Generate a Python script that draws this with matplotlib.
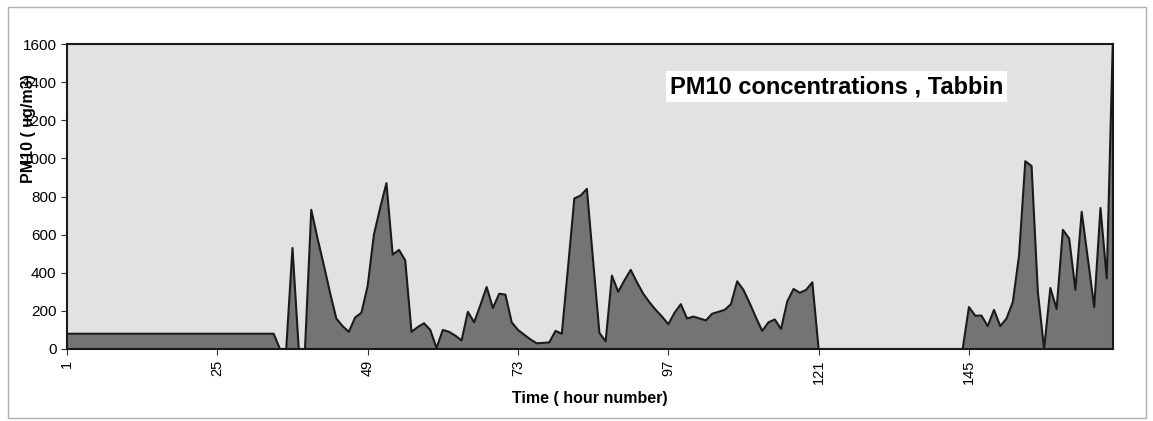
#Grafica de area: concentraciones horarias de PM10 en Tabbin (una semana)

import matplotlib.pyplot as plt
from matplotlib.patches import Rectangle

plt.rcParams["font.family"] = ["Liberation Sans", "DejaVu Sans"]

#DATOS
horas = list(range(1, 169))                             #hora 1 a 168
pm10 = ([80] * 34 +                                     #horas 1-34
        [0, 0, 530, 0, 0, 730, 580, 440, 295, 160,      #35-44
         120, 90, 165, 190, 330, 600, 740, 870, 495, 520,   #45-54
         465, 90, 115, 135, 100, 5, 100, 90, 70, 45,    #55-64
         195, 140, 230, 325, 215, 290, 285, 140, 100, 75,   #65-74
         50, 30, 32, 35, 95, 80, 430, 790, 805, 840,    #75-84
         460, 85, 40, 385, 300, 360, 415, 350, 290, 245,    #85-94
         205, 170, 130, 190, 235, 160, 170, 160, 150, 185,  #95-104
         195, 205, 235, 355, 310, 240, 165, 95, 140, 155,   #105-114
         105, 250, 315, 295, 310, 350, 0] +             #115-121
        [0] * 23 +                                      #122-144
        [220, 175, 175, 120, 205, 120, 160, 245, 490, 985,  #145-154
         960, 300, 0, 320, 210, 625, 580, 310, 720, 470,    #155-164
         220, 740, 370, 1650])                          #165-168
ticks_x = [1, 25, 49, 73, 97, 121, 145]
ticks_y = list(range(0, 1601, 200))

W, H = 1153, 421
fig = plt.figure(figsize=(W / 100, H / 100), dpi=100)
fig.patch.set_facecolor("white")

#marco exterior del grafico
fig.add_artist(Rectangle((8 / W, 1 - 418 / H), (1146 - 8) / W, (418 - 7) / H,
                         transform=fig.transFigure, fill=False,
                         edgecolor="#b0b0b0", linewidth=1.0))

ax = fig.add_axes([67 / W, 1 - 349 / H, (1113 - 67) / W, (349 - 44) / H])
ax.set_facecolor("#e2e2e2")

ax.fill_between(horas, pm10, 0, color="#747474", linewidth=0)   #area
ax.plot(horas, pm10, color="#1a1a1a", linewidth=1.5)            #contorno

ax.set_xlim(1, 168)
ax.set_ylim(0, 1600)
ax.set_xticks(ticks_x)
ax.set_xticklabels([str(t) for t in ticks_x], rotation=90, fontsize=10.5)
ax.set_yticks(ticks_y)
ax.set_yticklabels([str(t) for t in ticks_y], fontsize=11)
ax.tick_params(axis="both", direction="out", length=4, color="#333333")

for lado in ax.spines.values():
    lado.set_color("#1a1a1a")
    lado.set_linewidth(1.5)

#titulo dentro del area con caja blanca
ax.text(0.7357, 0.86, "PM10 concentrations , Tabbin", transform=ax.transAxes,
        ha="center", va="center", fontsize=17, fontweight="bold",
        bbox=dict(facecolor="white", edgecolor="none", pad=3))

fig.text(28 / W, 1 - 129 / H, "PM10 ( ug/m3)", rotation=90, ha="center",
         va="center", fontsize=11.5, fontweight="bold")
fig.text(589.5 / W, 1 - 398 / H, "Time ( hour number)", ha="center",
         va="center", fontsize=11.5, fontweight="bold")

plt.savefig("out.png", dpi=100)
plt.close()
